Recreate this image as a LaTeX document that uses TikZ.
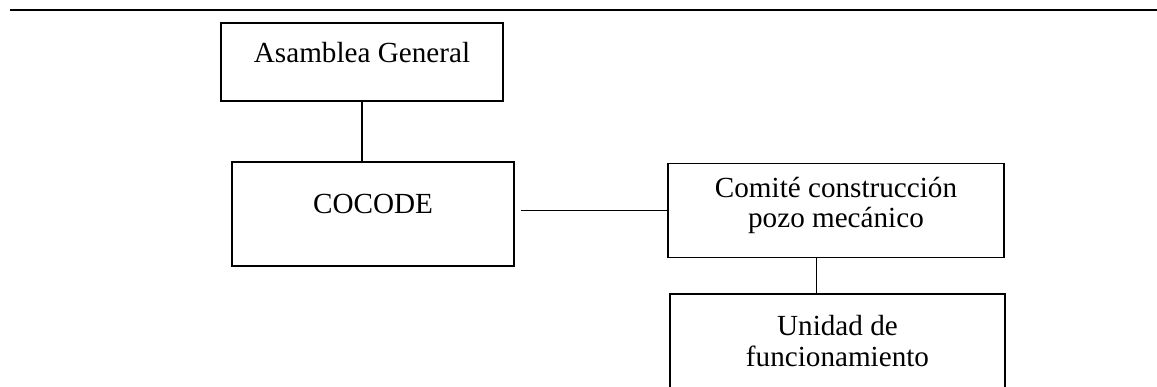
\documentclass[tikz,border=0pt]{standalone}
\usepackage{fontspec}
\setmainfont{Liberation Serif}
\usepackage{tikz}
\usetikzlibrary{positioning,calc}

\newcommand{\pxu}{0.4115pt}

\begin{document}
\begin{tikzpicture}[
  x=0.4115pt, y=-0.4115pt,
  box/.style={rectangle, draw, line width=0.8pt, inner sep=0pt},
  txt/.style={inner sep=0pt, align=center,
    font=\fontsize{12pt}{12.5pt}\selectfont},
  conn/.style={line width=0.45pt},
  rule/.style={line width=0.8pt},
]
\clip (0,0) rectangle (1157,386);

\node[box, minimum width=282*\pxu, minimum height=78*\pxu]  (asam)   at (362,62)    {};
\node[box, minimum width=282*\pxu, minimum height=104*\pxu] (cocode) at (373,214)   {};
\node[box, minimum width=336*\pxu, minimum height=94*\pxu]  (comite) at (836,210.5) {};
\node[box, minimum width=335*\pxu, minimum height=110*\pxu] (unidad) at (837.5,349) {};

\node[txt, below=8.2pt of asam.north]    (tasam)   {Asamblea General};
\node[txt, below=13.6pt of cocode.north] (tcocode) {COCODE};
\node[txt, below=5.8pt of comite.north]  (tcomite) {Comité construcción\\pozo mecánico};
\node[txt, below=9.1pt of unidad.north]  (tunidad) {Unidad de\\funcionamiento};

\draw[conn] (asam.south) -- (asam.south |- cocode.north);
\draw[conn] (comite.west) -- ([xshift=2.5pt]cocode.east |- comite.west);
\draw[conn] ([xshift=-8.2pt]comite.south) -- ([xshift=-8.2pt]comite.south |- unidad.north);

% page rule
\coordinate (ruleL) at (10,10);
\coordinate (ruleR) at (1157,10);
\draw[rule] (ruleL) -- (ruleR);
\end{tikzpicture}
\end{document}
